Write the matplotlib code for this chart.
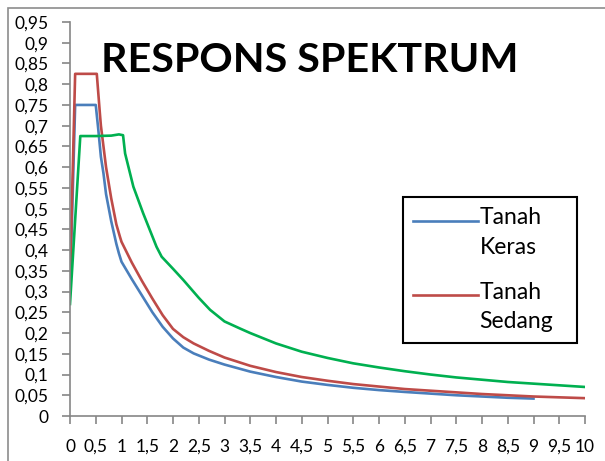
import matplotlib
matplotlib.use("Agg")
import matplotlib.pyplot as plt
from matplotlib.patches import Rectangle
from matplotlib.legend_handler import HandlerLine2D

# ---- data ----
keras_T = [0, 0.1, 0.5, 0.55, 0.6, 0.65, 0.7, 0.8, 0.9, 0.95, 1.0, 1.2, 1.4, 1.6, 1.8, 2.0, 2.2, 2.4,
           2.7, 3.0, 3.5, 4.0, 4.5, 5.0, 5.5, 6.0, 6.5, 7.0, 7.5, 8.0, 8.5, 9.0]
keras_Sa = [0.30, 0.75, 0.75, 0.69, 0.625, 0.585, 0.535, 0.47, 0.415, 0.392, 0.372, 0.33, 0.29, 0.25,
            0.215, 0.187, 0.165, 0.151, 0.136, 0.124, 0.107, 0.094, 0.083, 0.075, 0.068, 0.0625,
            0.058, 0.054, 0.050, 0.047, 0.044, 0.042]

sedang_T = [0, 0.1, 0.52, 0.58, 0.6, 0.7, 0.8, 0.9, 0.97, 1.0, 1.2, 1.4, 1.6, 1.8, 2.0, 2.2, 2.4, 2.7,
            3.0, 3.5, 4.0, 4.5, 5.0, 5.5, 6.0, 6.5, 7.0, 7.5, 8.0, 8.5, 9.0, 9.5, 10.0]
sedang_Sa = [0.33, 0.825, 0.825, 0.73, 0.70, 0.60, 0.525, 0.462, 0.432, 0.42, 0.37, 0.325, 0.283,
             0.243, 0.21, 0.19, 0.175, 0.157, 0.141, 0.121, 0.106, 0.094, 0.085, 0.077, 0.071,
             0.065, 0.061, 0.057, 0.053, 0.050, 0.047, 0.045, 0.043]

lunak_T = [0, 0.2, 0.5, 0.8, 0.95, 1.03, 1.07, 1.23, 1.42, 1.68, 1.78, 2.0, 2.2, 2.5, 2.72, 3.0, 3.3,
           3.5, 4.0, 4.5, 5.0, 5.5, 6.0, 6.5, 7.0, 7.5, 8.0, 8.5, 9.0, 9.5, 10.0]
lunak_Sa = [0.27, 0.675, 0.675, 0.676, 0.679, 0.677, 0.633, 0.553, 0.489, 0.408, 0.384, 0.355, 0.328,
            0.285, 0.256, 0.228, 0.211, 0.20, 0.175, 0.155, 0.14, 0.127, 0.117, 0.108, 0.10, 0.093,
            0.0875, 0.082, 0.078, 0.074, 0.07]

y_ticks = [i * 0.05 for i in range(20)]
y_labels = ["0", "0,05", "0,1", "0,15", "0,2", "0,25", "0,3", "0,35", "0,4", "0,45", "0,5",
            "0,55", "0,6", "0,65", "0,7", "0,75", "0,8", "0,85", "0,9", "0,95"]
x_ticks = [i * 0.5 for i in range(21)]
x_labels = ["0", "0,5", "1", "1,5", "2", "2,5", "3", "3,5", "4", "4,5", "5", "5,5", "6", "6,5",
            "7", "7,5", "8", "8,5", "9", "9,5", "10"]

title = "RESPONS SPEKTRUM"
names = ["Tanah\nKeras", "Tanah\nSedang", "Tanah\nLunak"]
colors = ["#4A7EBB", "#BE4B48", "#00B050"]

plt.rcParams['font.family'] = ['Lato', 'DejaVu Sans']

W, H = 605, 461
LEG_FS = 16.5
fig = plt.figure(figsize=(W / 100, H / 100), dpi=100)
fig.patch.set_facecolor("white")

# outer chart border (cropped at right/bottom)
fig.patches.append(Rectangle((8 / W, -0.1), 1.2, 1 - 8 / H + 0.1, transform=fig.transFigure,
                             fill=False, edgecolor="#8c8c8c", linewidth=1.2))

ax = fig.add_axes([70 / W, (H - 416) / H, (585 - 70) / W, (416 - 22) / H])
ax.set_facecolor("none")

lines = []
for T, Sa, c, n in zip([keras_T, sedang_T, lunak_T], [keras_Sa, sedang_Sa, lunak_Sa], colors, names):
    ln, = ax.plot(T, Sa, color=c, linewidth=1.9, label=n, solid_joinstyle="round")
    lines.append(ln)

ax.set_xlim(0, 10)
ax.set_ylim(0, 0.95)
ax.set_yticks(y_ticks)
ax.set_yticklabels(y_labels)
ax.set_xticks(x_ticks)
ax.set_xticklabels(x_labels)
for s in ["top", "right"]:
    ax.spines[s].set_visible(False)
for s in ["left", "bottom"]:
    ax.spines[s].set_color("#868686")
    ax.spines[s].set_linewidth(1.2)
ax.tick_params(axis="both", direction="out", length=5.5, width=1.2, color="#868686",
               labelsize=12.5, labelcolor="black")
ax.tick_params(axis="y", pad=10)
ax.tick_params(axis="x", pad=11)

fig.text(310 / W, 1 - 61 / H, title, fontsize=29.7, fontweight="bold", ha="center", va="center")


class TopLineHandler(HandlerLine2D):
    """Legend line aligned with the first text line and inset from the left."""
    def __init__(self, dy, **kw):
        super().__init__(**kw)
        self.dy = dy

    def create_artists(self, legend, orig_handle, xdescent, ydescent, width, height, fontsize, trans):
        arts = super().create_artists(legend, orig_handle, xdescent, ydescent, width, height,
                                      fontsize, trans)
        for a in arts:
            xd = a.get_xdata()
            yd = a.get_ydata()
            if len(xd) == 2:
                a.set_xdata([xd[0] + 8.6, xd[1]])
            a.set_ydata([y + self.dy for y in yd])
        return arts


leg = ax.legend(handles=lines[:2], loc="upper left",
                bbox_to_anchor=(403 / W, 1 - 341 / H, 174 / W, 144 / H), mode="expand",
                bbox_transform=fig.transFigure, fontsize=LEG_FS, frameon=True, fancybox=False,
                edgecolor="black", handlelength=2.84, handletextpad=0.05, borderpad=0.45,
                labelspacing=1.05, borderaxespad=0,
                handler_map={type(lines[0]): TopLineHandler(dy=9.0)})
leg.get_frame().set_linewidth(1.5)
leg.get_frame().set_alpha(1)
for t in leg.get_texts():
    t.set_linespacing(1.5)

fig.savefig("out.png", dpi=100)
